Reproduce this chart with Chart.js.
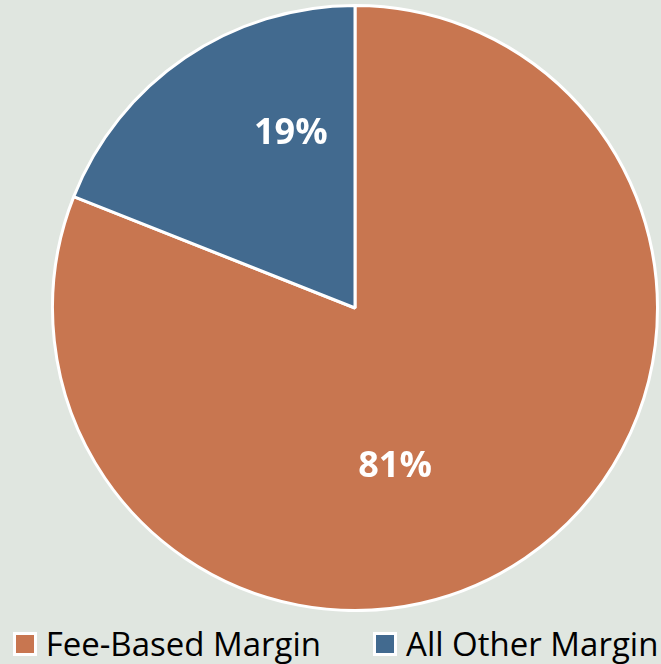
<!DOCTYPE html>
<html lang="en">
<head>
  <meta charset="UTF-8" />
  <title>Margin Mix</title>
  <script src="https://cdn.jsdelivr.net/npm/chart.js@4.4.0/dist/chart.umd.min.js"></script>
  <style>
body { margin: 0; background: #e0e6e0; font-family: "Open Sans", sans-serif; overflow: hidden; }
.chart-box { position: relative; width: 661px; height: 612px; }
.legend {
  position: absolute; top: 622px; left: 5px; width: 661px;
  display: flex; justify-content: center; white-space: nowrap;
}
.legend-item { display: flex; align-items: center; flex-shrink: 0; margin: 0 26px; font-size: 33px; color: #000; line-height: 44px; }
.legend-box { flex-shrink: 0; width: 18px; height: 18px; border: 3px solid #fff; margin-right: 9px; }
  </style>
</head>
<body>
  <div class="chart-box"><canvas id="pie"></canvas></div>
  <div class="legend" id="legend"></div>

  <script>
    // data
    const categories = ['Fee-Based Margin', 'All Other Margin'];
    const shares = [81, 19];
    const sliceColors = ['#c87650', '#426a8f'];

    // label placement (Excel best-fit puts them a bit clockwise of the middle)
    const labelShiftDeg = [20, 14];
    const labelRadius = [0.54, 0.615];

    const pctLabels = {
      id: 'pctLabels',
      afterDatasetsDraw(chart) {
        const {ctx} = chart;
        const meta = chart.getDatasetMeta(0);
        ctx.save();
        ctx.fillStyle = '#fff';
        ctx.font = 'bold 36px "Open Sans"';
        ctx.textAlign = 'center';
        ctx.textBaseline = 'middle';
        meta.data.forEach((arc, i) => {
          const p = arc.getProps(['x','y','startAngle','endAngle','outerRadius'], true);
          const a = (p.startAngle + p.endAngle) / 2 + labelShiftDeg[i] * Math.PI / 180;
          const r = p.outerRadius * labelRadius[i];
          ctx.fillText(shares[i] + '%', p.x + Math.cos(a) * r, p.y + Math.sin(a) * r);
        });
        ctx.restore();
      }
    };

    new Chart(document.getElementById('pie'), {
      type: 'pie',
      data: {
        labels: categories,
        datasets: [{
          data: shares,
          backgroundColor: sliceColors,
          borderColor: '#fff',
          borderWidth: 3,
          hoverOffset: 0
        }]
      },
      options: {
        responsive: true,
        maintainAspectRatio: false,
        animation: false,
        layout: { padding: { left: 49, right: 0, top: 4, bottom: 0 } },
        plugins: {
          tooltip: { enabled: false },
          legend: { display: false }
        }
      },
      plugins: [pctLabels]
    });

    // html legend
    const legend = document.getElementById('legend');
    categories.forEach((name, i) => {
      const item = document.createElement('div');
      item.className = 'legend-item';
      item.innerHTML = '<span class="legend-box" style="background:' + sliceColors[i] + '"></span>' + name;
      legend.appendChild(item);
    });
  </script>
</body>
</html>
